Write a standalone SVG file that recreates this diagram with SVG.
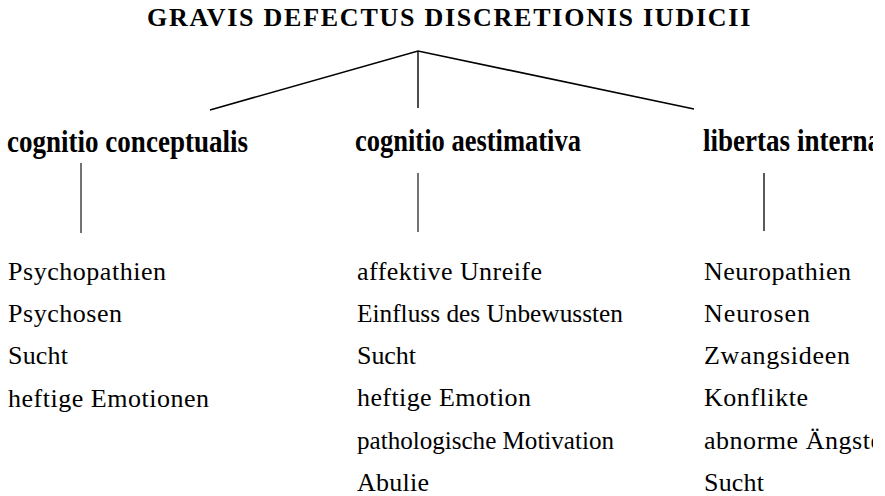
<svg xmlns="http://www.w3.org/2000/svg" width="885" height="496" viewBox="0 0 885 496">
<style>
.title{font-family:"Liberation Serif",serif;font-weight:bold;font-size:26px;letter-spacing:1.7px;fill:#000}
.head{font-family:"Liberation Serif",serif;font-weight:bold;font-size:31px;fill:#000}
.item{font-family:"Liberation Serif",serif;font-size:26px;fill:#000}
.edge{stroke:#000;fill:none;stroke-linecap:butt}
</style>
<defs>
<clipPath id="crop"><rect x="0" y="0" width="873" height="496"/></clipPath>
</defs>
<rect width="885" height="496" fill="#fff"/>
<g id="root"><text class="title" x="147" y="26" textLength="605" lengthAdjust="spacing">GRAVIS DEFECTUS DISCRETIONIS IUDICII</text></g>
<g id="connectors">
<polyline class="edge" stroke-width="1.6" points="210,110 418,51 694,109"/>
<line class="edge" stroke-width="1.4" x1="418" y1="51" x2="418" y2="108"/>
<line class="edge" stroke-width="1.1" x1="81" y1="163" x2="81" y2="233"/>
<line class="edge" stroke-width="1.1" x1="418" y1="173" x2="418" y2="232"/>
<line class="edge" stroke-width="1.3" x1="764" y1="173" x2="764" y2="231"/>
</g>
<g id="conceptualis">
<text class="head" x="7" y="152" textLength="241" lengthAdjust="spacingAndGlyphs">cognitio conceptualis</text>
<text class="item" x="8" y="280" textLength="158" lengthAdjust="spacing">Psychopathien</text>
<text class="item" x="8" y="322" textLength="114" lengthAdjust="spacing">Psychosen</text>
<text class="item" x="8" y="364" textLength="60" lengthAdjust="spacing">Sucht</text>
<text class="item" x="8" y="407" textLength="201" lengthAdjust="spacing">heftige Emotionen</text>
</g>
<g id="aestimativa">
<text class="head" x="355" y="151" textLength="226" lengthAdjust="spacingAndGlyphs">cognitio aestimativa</text>
<text class="item" x="357" y="280" textLength="185" lengthAdjust="spacing">affektive Unreife</text>
<text class="item" x="357" y="322" textLength="266" lengthAdjust="spacingAndGlyphs">Einfluss des Unbewussten</text>
<text class="item" x="357" y="364" textLength="59" lengthAdjust="spacing">Sucht</text>
<text class="item" x="357" y="406" textLength="174" lengthAdjust="spacing">heftige Emotion</text>
<text class="item" x="357" y="448.5" textLength="257" lengthAdjust="spacingAndGlyphs">pathologische Motivation</text>
<text class="item" x="357" y="491" textLength="72" lengthAdjust="spacing">Abulie</text>
</g>
<g id="interna" clip-path="url(#crop)">
<text class="head" x="703" y="151" textLength="178" lengthAdjust="spacingAndGlyphs">libertas interna</text>
<text class="item" x="704" y="280" textLength="147" lengthAdjust="spacing">Neuropathien</text>
<text class="item" x="704" y="322" textLength="106" lengthAdjust="spacing">Neurosen</text>
<text class="item" x="704" y="364" textLength="146" lengthAdjust="spacing">Zwangsideen</text>
<text class="item" x="704" y="406" textLength="104" lengthAdjust="spacing">Konflikte</text>
<text class="item" x="704" y="448.5" textLength="178" lengthAdjust="spacing">abnorme Ängste</text>
<text class="item" x="704" y="491" textLength="60" lengthAdjust="spacing">Sucht</text>
</g>
</svg>
